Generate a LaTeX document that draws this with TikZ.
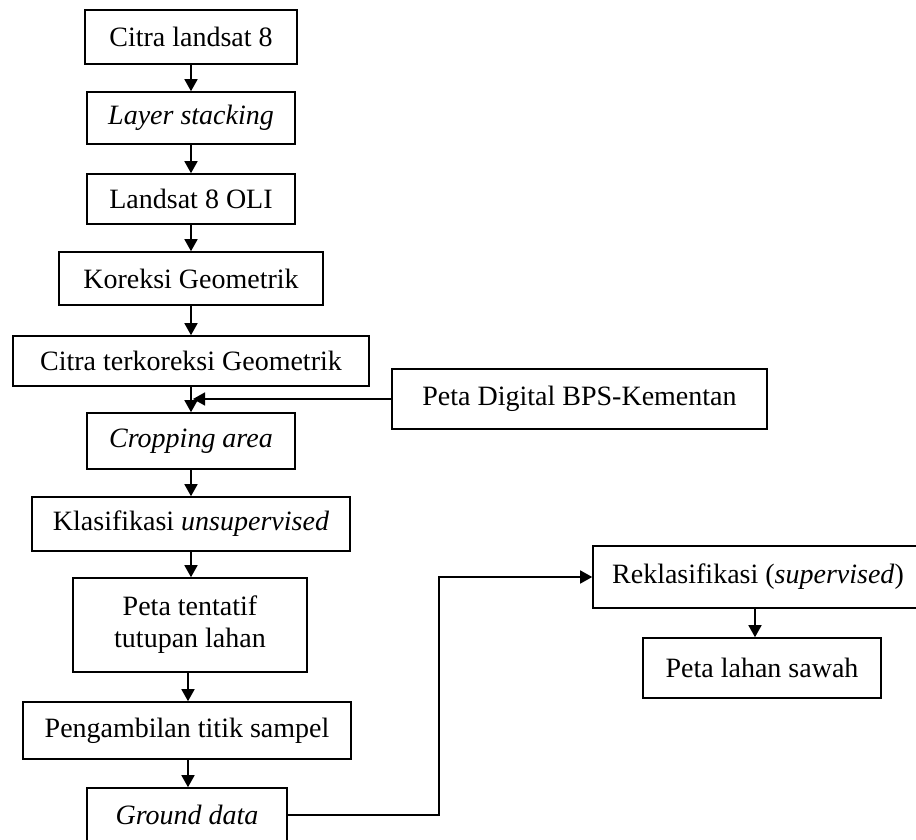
\documentclass[tikz,border=0pt]{standalone}
\usepackage{fontspec}
\setmainfont{Liberation Serif}
\usetikzlibrary{arrows.meta}
\begin{document}
\begin{tikzpicture}[x=1pt,y=-1pt,
  box/.style={draw, line width=1.6pt, inner sep=0pt, align=center, font=\fontsize{28}{32}\selectfont},
  arr/.style={-{Triangle[width=13pt,length=12pt]}, line width=1.6pt}]
\useasboundingbox (0,0) rectangle (916,840);
\node[box, minimum width=212pt, minimum height=54pt] (b1) at (191,37) {Citra landsat 8};
\node[box, minimum width=208pt, minimum height=52pt] (b2) at (191,118) {\itshape Layer stacking};
\node[box, minimum width=208pt, minimum height=50pt] (b3) at (191,199) {Landsat 8 OLI};
\node[box, minimum width=264pt, minimum height=53pt] (b4) at (191,278.5) {Koreksi Geometrik};
\node[box, minimum width=356pt, minimum height=50pt] (b5) at (191,361) {Citra terkoreksi Geometrik};
\node[box, minimum width=208pt, minimum height=56pt] (b6) at (191,441) {\itshape Cropping area};
\node[box, minimum width=318pt, minimum height=54pt] (b7) at (191,524) {Klasifikasi \textit{unsupervised}};
\node[box, minimum width=234pt, minimum height=94pt] (b8) at (190,625) {Peta tentatif\\tutupan lahan};
\node[box, minimum width=328pt, minimum height=57pt] (b9) at (187,730.5) {Pengambilan titik sampel};
\node[box, minimum width=200pt, minimum height=54pt] (b10) at (187,815) {\itshape Ground data};
\node[box, minimum width=375pt, minimum height=60pt] (pd) at (579.5,399) {\raisebox{4pt}{Peta Digital BPS-Kementan}};
\node[box, minimum width=330pt, minimum height=62pt] (rk) at (758,577) {Reklasifikasi (\textit{supervised})};
\node[box, minimum width=238pt, minimum height=60pt] (pl) at (762,668) {Peta lahan sawah};
\draw[arr] (b1) -- (b2);
\draw[arr] (b2) -- (b3);
\draw[arr] (b3) -- (b4);
\draw[arr] (b4) -- (b5);
\draw[arr] (b5) -- (b6);
\draw[arr] (b6) -- (b7);
\draw[arr] (b7.south -| 191,0) -- (b8.north -| 191,0);
\draw[arr] (b8.south -| 188,0) -- (b9.north -| 188,0);
\draw[arr] (b9.south -| 188,0) -- (b10.north -| 188,0);
\coordinate (j) at (193,399);
\draw[arr] (pd.west) -- (j);
\coordinate (turn) at (439,815);
\draw[arr] (b10.east) -- (turn) |- (rk.west);
\draw[arr] (rk.south -| 755,0) -- (pl.north -| 755,0);
\end{tikzpicture}
\end{document}
